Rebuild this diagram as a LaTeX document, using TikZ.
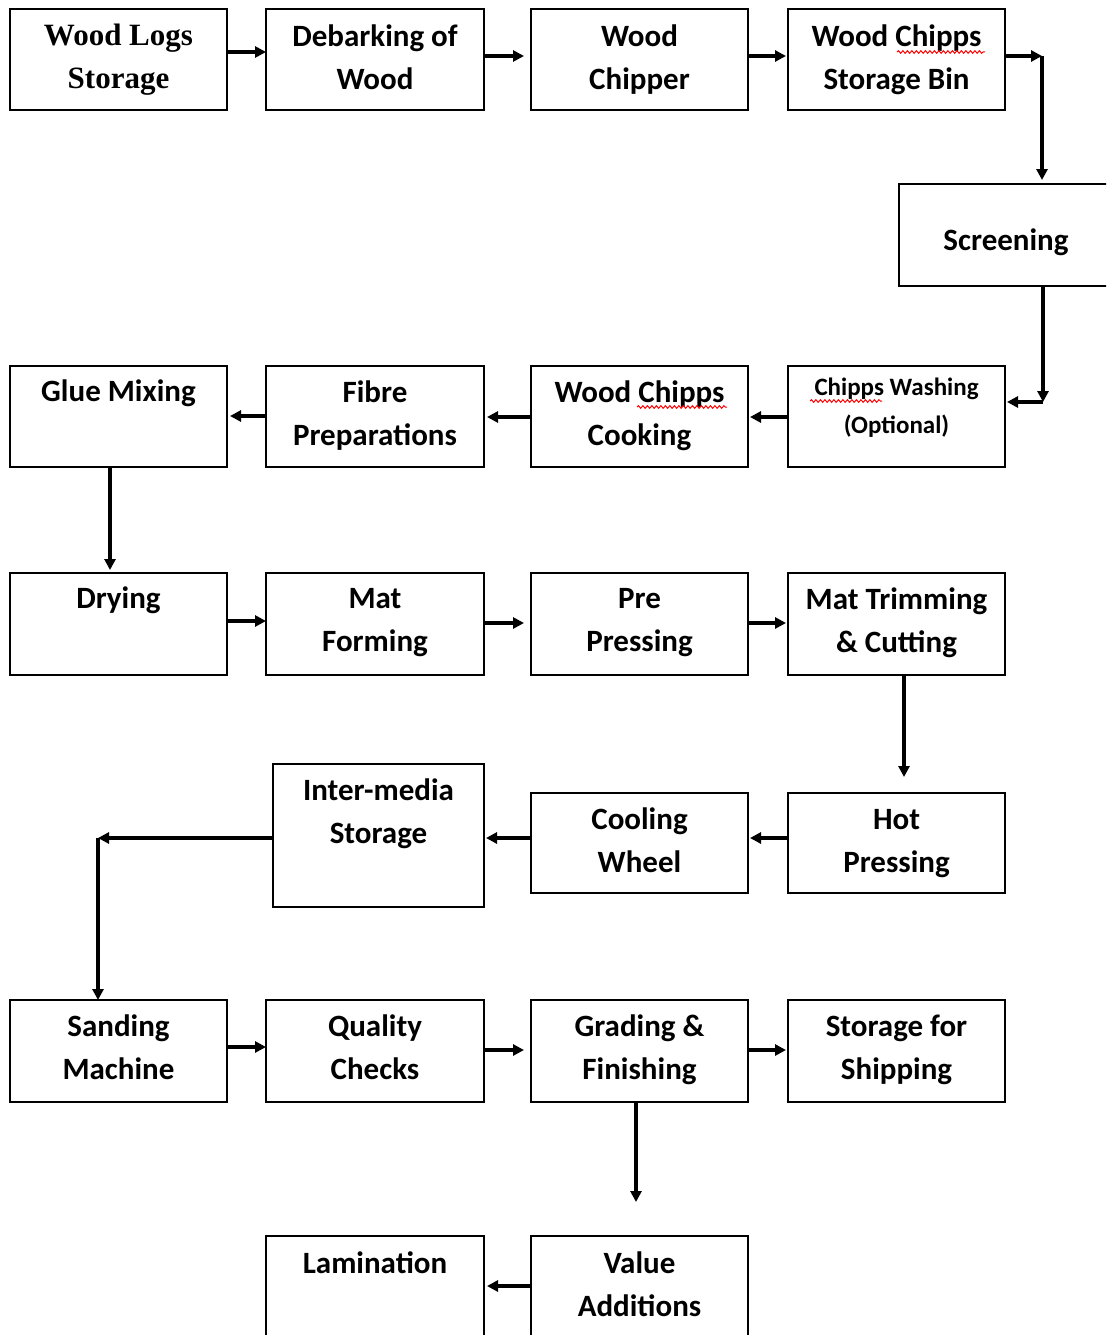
\documentclass[tikz,border=0pt]{standalone}
\usepackage{fontspec}
\setmainfont{Carlito}
\newfontfamily\timesf{Liberation Serif}
\usetikzlibrary{arrows.meta,decorations.pathmorphing}
\tikzset{
  box/.style={draw, line width=1.6pt, inner sep=0pt, outer sep=0pt, font=\bfseries\fontsize{31}{43}\selectfont},
  arr/.style={line width=3.2pt, -{Triangle[length=11pt,width=11pt]}},
  squig/.style={red, line width=1pt, decorate, decoration={snake, amplitude=1.3pt, segment length=4.5pt}}
}
\newcommand\fbx[7]{%
  \node[box] (#1) at ({(#2+#4)/2},{(#3+#5)/2})
  {\parbox[c][\dimexpr#5pt-#3pt\relax][t]{\dimexpr#4pt-#2pt\relax}{\centering\rule{0pt}{#6pt}#7\par}};}
\begin{document}
\begin{tikzpicture}[x=1pt,y=-1pt]
\useasboundingbox (0,0) rectangle (1106,1335);
\clip (0,0) rectangle (1106,1335);
% row 1
\fbx{logs}{10}{9}{227}{110}{37}{\timesf Wood Logs\\Storage}
\fbx{debark}{266}{9}{484}{110}{38}{Debarking of\\Wood}
\fbx{chipper}{531}{9}{748}{110}{38}{Wood\\Chipper}
\fbx{bin}{788}{9}{1005}{110}{38}{Wood Chipps\\Storage Bin}
\fbx{screen}{899}{184}{1113}{286}{66}{Screening}
% row 2
\fbx{wash}{788}{366}{1005}{467}{29}{\fontsize{25}{38}\selectfont Chipps Washing\\(Optional)}
\fbx{cook}{531}{366}{748}{467}{36}{Wood Chipps\\Cooking}
\fbx{fibre}{266}{366}{484}{467}{36}{Fibre\\Preparations}
\fbx{glue}{10}{366}{227}{467}{35}{Glue Mixing}
% row 3
\fbx{dry}{10}{573}{227}{675}{35}{Drying}
\fbx{mat}{266}{573}{484}{675}{35}{Mat\\Forming}
\fbx{pre}{531}{573}{748}{675}{35}{Pre\\Pressing}
\fbx{trim}{788}{573}{1005}{675}{36}{Mat Trimming\\\& Cutting}
% row 4
\fbx{hot}{788}{793}{1005}{893}{36}{Hot\\Pressing}
\fbx{cool}{531}{793}{748}{893}{36}{Cooling\\Wheel}
\fbx{inter}{273}{764}{484}{907}{36}{Inter-media\\Storage}
% row 5
\fbx{sand}{10}{1000}{227}{1102}{36}{Sanding\\Machine}
\fbx{qual}{266}{1000}{484}{1102}{36}{Quality\\Checks}
\fbx{grade}{531}{1000}{748}{1102}{36}{Grading \&\\Finishing}
\fbx{ship}{788}{1000}{1005}{1102}{36}{Storage for\\Shipping}
% row 6
\fbx{lam}{266}{1236}{484}{1338}{37}{Lamination}
\fbx{val}{531}{1236}{748}{1338}{37}{Value\\Additions}
% spell-check squiggles
\draw[squig] (897,52) -- (985,52);
\draw[squig] (637,407) -- (727,407);
\draw[squig] (810,401) -- (882,401);
% connectors
\coordinate (c1) at (1042,56);
\coordinate (c2) at (1043,402);
\coordinate (c3) at (98,838);
\draw[arr] (logs.east |- 0,52) -- (debark.west |- 0,52);
\draw[arr, shorten >=7pt] (debark.east |- 0,56) -- (chipper.west |- 0,56);
\draw[arr, shorten >=2pt] (chipper.east |- 0,56) -- (bin.west |- 0,56);
\draw[arr] (bin.east |- c1) -- (c1);
\draw[arr, shorten >=4pt] (c1) -- (screen.north -| c1);
\draw[arr] (screen.south -| c2) -- (c2);
\draw[arr, shorten >=2pt] (c2) -- (wash.east |- c2);
\draw[arr, shorten >=2pt] (wash.west |- 0,417) -- (cook.east |- 0,417);
\draw[arr, shorten >=3pt] (cook.west |- 0,417) -- (fibre.east |- 0,417);
\draw[arr, shorten >=3pt] (fibre.west |- 0,416) -- (glue.east |- 0,416);
\draw[arr, shorten >=3pt] (glue.south -| 110,0) -- (dry.north -| 110,0);
\draw[arr] (dry.east |- 0,621) -- (mat.west |- 0,621);
\draw[arr, shorten >=7pt] (mat.east |- 0,623) -- (pre.west |- 0,623);
\draw[arr, shorten >=2pt] (pre.east |- 0,623) -- (trim.west |- 0,623);
\draw[arr, shorten >=16pt] (trim.south -| 904,0) -- (hot.north -| 904,0);
\draw[arr, shorten >=2pt] (hot.west |- 0,838) -- (cool.east |- 0,838);
\draw[arr, shorten >=2pt] (cool.west |- 0,838) -- (inter.east |- 0,838);
\draw[arr] (inter.west |- c3) -- (c3);
\draw[arr] (c3) -- (sand.north -| c3);
\draw[arr] (sand.east |- 0,1047) -- (qual.west |- 0,1047);
\draw[arr, shorten >=7pt] (qual.east |- 0,1050) -- (grade.west |- 0,1050);
\draw[arr, shorten >=2pt] (grade.east |- 0,1050) -- (ship.west |- 0,1050);
\draw[arr, shorten >=34pt] (grade.south -| 636,0) -- (val.north -| 636,0);
\draw[arr, shorten >=3pt] (val.west |- 0,1286) -- (lam.east |- 0,1286);
\end{tikzpicture}
\end{document}
